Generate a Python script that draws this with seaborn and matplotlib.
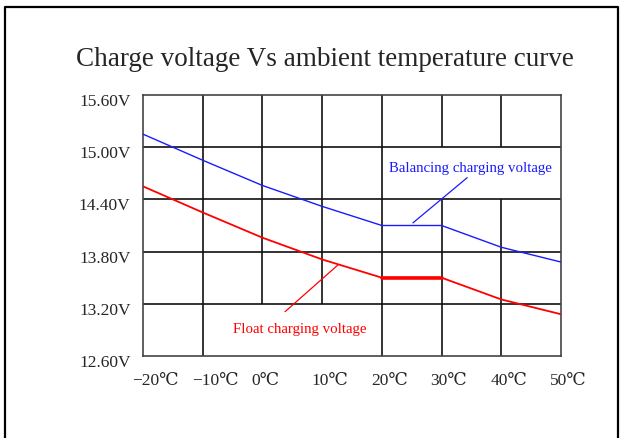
import pandas as pd
import seaborn as sns
import matplotlib.pyplot as plt
from matplotlib.transforms import ScaledTranslation

# Datos
temps = [-20, -10, 0, 10, 20, 30, 40, 50]
balancing_v = [15.15, 14.85, 14.56, 14.32, 14.10, 14.10, 13.85, 13.68]
float_v = [14.55, 14.25, 13.96, 13.71, 13.50, 13.50, 13.25, 13.08]
x_ticks = [-20, -10, 0, 10, 20, 30, 40, 50]
x_labels = ["−20℃", "−10℃", "0℃", "10℃", "20℃", "30℃", "40℃", "50℃"]
y_ticks = [12.60, 13.20, 13.80, 14.40, 15.00, 15.60]
y_labels = ["12.60V", "13.20V", "13.80V", "14.40V", "15.00V", "15.60V"]

df = pd.DataFrame({"temp": temps, "balancing": balancing_v, "float": float_v})
df_flat = df[(df["temp"] >= 20) & (df["temp"] <= 30)]

sns.set_style("white")
plt.rcParams["font.family"] = ["Liberation Serif", "DejaVu Serif", "DejaVu Sans"]

fig = plt.figure(figsize=(6.2, 4.38), dpi=100)
ax = fig.add_axes([143 / 620, 1 - 356 / 438, 418 / 620, 261 / 438])

# Cuadricula irregular, como en el original
grid_kw = dict(color="#111111", linewidth=1.2, zorder=1)
ax.hlines([13.20, 13.80, 14.40, 15.00], -20, 50, **grid_kw)
ax.vlines([-10, 20], 12.60, 15.60, **grid_kw)
ax.vlines([0, 10], 13.20, 15.60, **grid_kw)
ax.vlines([30, 40], 15.00, 15.60, **grid_kw)
ax.vlines([30, 40], 12.60, 14.40, **grid_kw)

sns.lineplot(data=df, x="temp", y="balancing", color="#1a1aff", linewidth=1.0, ax=ax, zorder=3)
sns.lineplot(data=df, x="temp", y="float", color="#ff0000", linewidth=1.3, ax=ax, zorder=3)
sns.lineplot(data=df_flat, x="temp", y="float", color="#ff0000", linewidth=2.6, ax=ax, zorder=3)

# Etiquetas con lineas guia
ax.text(34.8, 14.75, "Balancing charging voltage", color="#1a1aff", fontsize=10.7, ha="center", va="center")
ax.plot([25.2, 34.3], [14.13, 14.65], color="#1a1aff", linewidth=0.9)
ax.text(6.3, 12.90, "Float charging voltage", color="#ff0000", fontsize=10.7, ha="center", va="center")
ax.plot([3.8, 12.7], [13.11, 13.65], color="#ff0000", linewidth=0.9)

ax.set_xlim(-20, 50)
ax.set_ylim(12.60, 15.60)
ax.set_xticks(x_ticks)
ax.set_xticklabels(x_labels, fontsize=12.5, ha="left")
ax.set_yticks(y_ticks)
ax.set_yticklabels(y_labels, fontsize=12.5, va="top")
ax.tick_params(length=0)
ax.tick_params(axis="x", pad=12)
ax.tick_params(axis="y", pad=9)
for lab in ax.get_xticklabels():
    lab.set_transform(lab.get_transform() + ScaledTranslation(-0.11, 0, fig.dpi_scale_trans))
for lab in ax.get_yticklabels():
    lab.set_transform(lab.get_transform() + ScaledTranslation(0, 0.01, fig.dpi_scale_trans))
ax.set_xlabel("")
ax.set_ylabel("")
for s in ax.spines.values():
    s.set_color("#444444")
    s.set_linewidth(1.2)

fig.text(325 / 620, 1 - 60 / 438, "Charge voltage Vs ambient temperature curve", fontsize=19.5, ha="center", va="center")

# Marco exterior
fig.add_artist(plt.Line2D([5 / 620, 5 / 620, 618 / 620, 618 / 620], [0, 1 - 7 / 438, 1 - 7 / 438, 0],
                          transform=fig.transFigure, color="black", linewidth=1.6))

fig.savefig("out.png", dpi=100)
